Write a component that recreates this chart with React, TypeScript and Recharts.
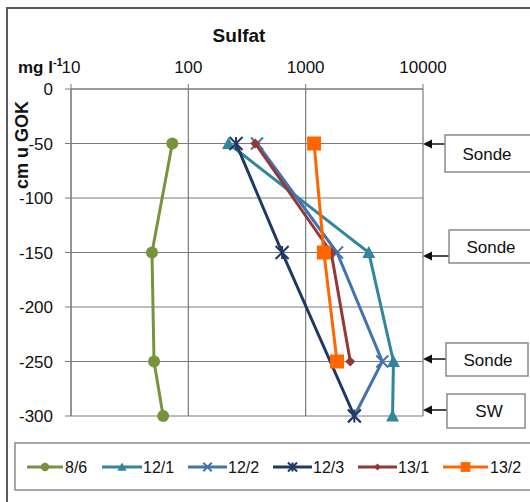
import React from "react";
import { ScatterChart, Scatter, XAxis, YAxis, CartesianGrid } from "recharts";

// depth in cm below ground (GOK)
const depths = [-50, -150, -250, -300];

// sulfate, mg/l
const s8_6 = [73, 49, 51, 61];
const s12_1 = [220, 3450, 5600, 5500];
const s12_2 = [385, 1850, 4500, 2600];
const s12_3 = [255, 630, null, 2600];
const s13_1 = [372, 1650, 2400, null];
const s13_2 = [1180, 1430, 1850, null];

const xTicks = [10, 100, 1000, 10000];
const yTicks = [0, -50, -100, -150, -200, -250, -300];

const probeLabels = ["Sonde", "Sonde", "Sonde", "SW"];

const FONT = "'Liberation Sans', Arial, sans-serif";
const GRID = "#7a7a7a";

type Kind = "circle" | "triangle" | "x" | "star" | "diamond" | "square";

const series: { name: string; values: (number | null)[]; color: string; kind: Kind; size: number }[] = [
  { name: "8/6", values: s8_6, color: "#77933C", kind: "circle", size: 12 },
  { name: "12/1", values: s12_1, color: "#31859C", kind: "triangle", size: 13 },
  { name: "12/2", values: s12_2, color: "#4372B0", kind: "x", size: 12 },
  { name: "12/3", values: s12_3, color: "#1F3864", kind: "star", size: 13 },
  { name: "13/1", values: s13_1, color: "#953735", kind: "diamond", size: 10 },
  { name: "13/2", values: s13_2, color: "#FF6600", kind: "square", size: 14 },
];

const toPoints = (vals: (number | null)[]) =>
  depths
    .map((d, i) => ({ conc: vals[i], depth: d }))
    .filter((p) => p.conc != null);

function Mark({ kind, x, y, color, size }: { kind: Kind; x: number; y: number; color: string; size: number }) {
  const h = size / 2;
  switch (kind) {
    case "circle":
      return <circle cx={x} cy={y} r={h} fill={color} />;
    case "triangle":
      return <polygon points={`${x},${y - h} ${x + h},${y + h * 0.85} ${x - h},${y + h * 0.85}`} fill={color} />;
    case "x":
      return (
        <path d={`M${x - h},${y - h}L${x + h},${y + h}M${x - h},${y + h}L${x + h},${y - h}`} stroke={color} strokeWidth={2} />
      );
    case "star":
      return (
        <path
          d={`M${x - h},${y - h}L${x + h},${y + h}M${x - h},${y + h}L${x + h},${y - h}M${x},${y - h}L${x},${y + h}`}
          stroke={color}
          strokeWidth={2}
        />
      );
    case "diamond":
      return <polygon points={`${x},${y - h} ${x + h},${y} ${x},${y + h} ${x - h},${y}`} fill={color} />;
    case "square":
      return <rect x={x - h} y={y - h} width={size} height={size} fill={color} />;
  }
  return null;
}

// annotation boxes on the right side of the plot
const boxes = [
  { x: 445, y: 135, w: 90, h: 37, arrowY: 144 },
  { x: 449, y: 230, w: 90, h: 33, arrowY: 256 },
  { x: 446, y: 343, w: 82, h: 33, arrowY: 359 },
  { x: 447, y: 394, w: 78, h: 34, arrowY: 410 },
];

const legendPos = [
  { x1: 27, x2: 63, tx: 65 },
  { x1: 102, x2: 142, tx: 143 },
  { x1: 188, x2: 227, tx: 228 },
  { x1: 273, x2: 312, tx: 313 },
  { x1: 358, x2: 397, tx: 398 },
  { x1: 443, x2: 488, tx: 490 },
];

export default function App() {
  return (
    <div style={{ position: "absolute", left: 0, top: 0, width: 530, height: 502, background: "#fff", overflow: "hidden" }}>
      <ScatterChart width={530} height={502} margin={{ top: 59, right: 107, bottom: 86, left: 0 }}>
        <CartesianGrid stroke={GRID} strokeWidth={1.2} />
        <XAxis
          type="number"
          dataKey="conc"
          orientation="top"
          scale="log"
          domain={[10, 10000]}
          ticks={xTicks}
          allowDataOverflow
          height={30}
          tickSize={5}
          tickMargin={11}
          stroke={GRID}
          tick={{ fontSize: 17, fill: "#111", fontFamily: FONT }}
        />
        <YAxis
          type="number"
          dataKey="depth"
          domain={[-300, 0]}
          ticks={yTicks}
          width={71}
          tickSize={6}
          tickMargin={12}
          stroke={GRID}
          tick={{ fontSize: 17, fill: "#111", fontFamily: FONT }}
        />
        {series.map((s) => (
          <Scatter
            key={s.name}
            name={s.name}
            data={toPoints(s.values)}
            fill={s.color}
            line={{ stroke: s.color, strokeWidth: 3 }}
            lineType="joint"
            isAnimationActive={false}
            shape={(p: any) => <Mark kind={s.kind} x={p.cx} y={p.cy} color={s.color} size={s.size} />}
          />
        ))}
      </ScatterChart>

      <svg width={530} height={502} style={{ position: "absolute", left: 0, top: 0, pointerEvents: "none" }} fontFamily={FONT}>
        <rect x={7} y={8} width={540} height={510} fill="none" stroke="#5a5a5a" strokeWidth={2} />
        <text x={239} y={42} textAnchor="middle" fontSize={19} fontWeight="bold" fill="#111">
          Sulfat
        </text>
        <text x={18} y={73} fontSize={17} fontWeight="bold" fill="#111">
          mg l
          <tspan fontSize={11} dy={-7}>-1</tspan>
        </text>
        <text transform="translate(28,145) rotate(-90)" textAnchor="middle" fontSize={18} fontWeight="bold" fill="#111">
          cm u GOK
        </text>

        {boxes.map((b, i) => (
          <g key={i}>
            <line x1={b.x} y1={b.arrowY} x2={430} y2={b.arrowY} stroke="#111" strokeWidth={1.5} />
            <polygon points={`423,${b.arrowY} 432,${b.arrowY - 4.5} 432,${b.arrowY + 4.5}`} fill="#111" />
            <rect x={b.x} y={b.y} width={b.w} height={b.h} fill="#fff" stroke="#8a8a8a" strokeWidth={1.5} />
            <text x={b.x + 42} y={b.y + b.h / 2 + 6} textAnchor="middle" fontSize={17} fill="#111">
              {probeLabels[i]}
            </text>
          </g>
        ))}

        <rect x={15} y={443} width={540} height={47} fill="#fff" stroke="#8a8a8a" strokeWidth={1.5} />
        {series.map((s, i) => {
          const p = legendPos[i];
          const cy = 467;
          return (
            <g key={s.name}>
              <line x1={p.x1} y1={cy} x2={p.x2} y2={cy} stroke={s.color} strokeWidth={3} />
              <Mark kind={s.kind} x={(p.x1 + p.x2) / 2} y={cy} color={s.color} size={s.size * 0.7} />
              <text x={p.tx} y={cy + 6} fontSize={16} fill="#111">
                {s.name}
              </text>
            </g>
          );
        })}
      </svg>
    </div>
  );
}
